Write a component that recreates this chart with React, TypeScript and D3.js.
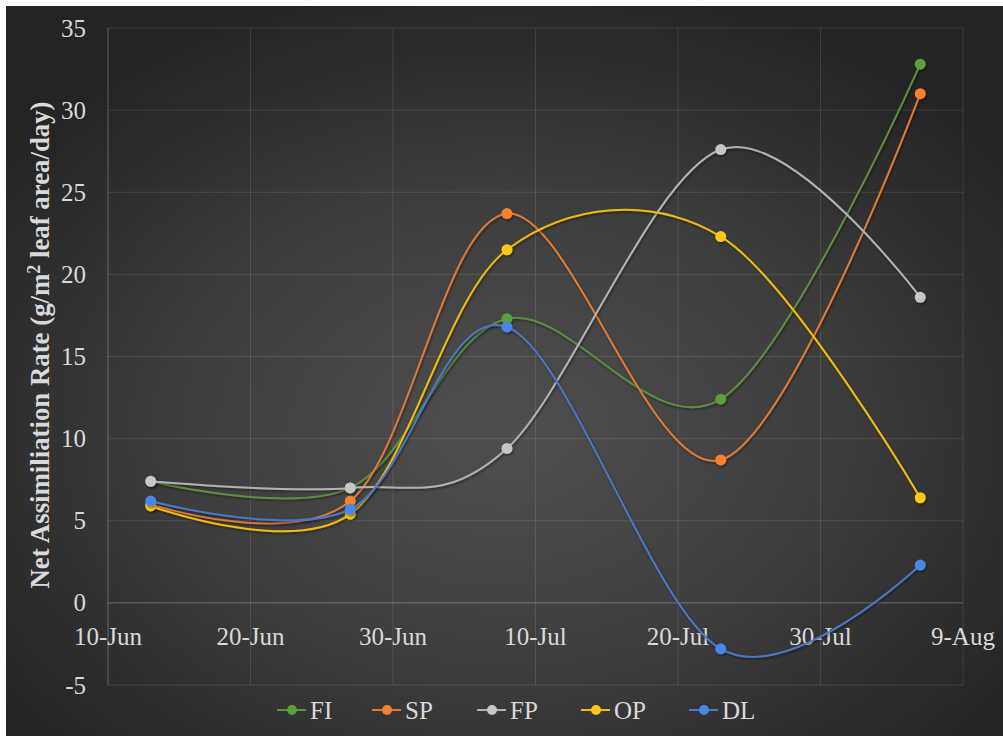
import React from "react";
import * as d3 from "d3";

// Sampling dates and series values (g/m² leaf area/day)
const sampleDates = ["2019-06-13", "2019-06-27", "2019-07-08", "2019-07-23", "2019-08-06"];
const seriesNames = ["FI", "SP", "FP", "OP", "DL"];
const fiValues = [7.4, 7.0, 17.3, 12.4, 32.8];
const spValues = [6.0, 6.2, 23.7, 8.7, 31.0];
const fpValues = [7.4, 7.0, 9.4, 27.6, 18.6];
const opValues = [5.9, 5.4, 21.5, 22.3, 6.4];
const dlValues = [6.2, 5.7, 16.8, -2.8, 2.3];
const lineColors = ["#5d8f3f", "#e07a36", "#b3b3b3", "#f2bb0c", "#4a78c9"];
const markerColors = ["#5aa03a", "#f5822e", "#c6c6c6", "#ffc815", "#4887e6"];

const xTickDates = ["2019-06-10", "2019-06-20", "2019-06-30", "2019-07-10", "2019-07-20", "2019-07-30", "2019-08-09"];
const yTicks = [-5, 0, 5, 10, 15, 20, 25, 30, 35];

const W = 1003;
const H = 736;
const left = 108;
const right = 963;
const top = 28;
const bottom = 685;

export default function App() {
  const parse = d3.timeParse("%Y-%m-%d");
  const fmt = d3.timeFormat("%-d-%b");
  const tickDates = xTickDates.map((d) => parse(d) as Date);
  const x = d3
    .scaleTime()
    .domain([tickDates[0], tickDates[tickDates.length - 1]])
    .range([left, right]);
  const y = d3.scaleLinear().domain([-5, 35]).range([bottom, top]);

  const dates = sampleDates.map((d) => parse(d) as Date);
  const allValues = [fiValues, spValues, fpValues, opValues, dlValues];
  const series = seriesNames.map((name, i) => ({
    name,
    line: lineColors[i],
    marker: markerColors[i],
    points: dates.map((d, j) => ({ date: d, value: allValues[i][j] })),
  }));

  const lineGen = d3
    .line<{ date: Date; value: number }>()
    .x((p) => x(p.date))
    .y((p) => y(p.value))
    .curve(d3.curveCardinal.tension(0));

  const font = "'Liberation Serif', 'Times New Roman', serif";
  const textColor = "#d9d9d9";

  const legendX = [292, 387, 492, 596, 704];
  const legendY = 710;

  return (
    <svg
      width={W}
      height={H}
      style={{ position: "absolute", left: 0, top: 0, display: "block" }}
      fontFamily={font}
    >
      <defs>
        <radialGradient id="bg" cx="50%" cy="58%" r="62%">
          <stop offset="0%" stopColor="#4f4f4f" />
          <stop offset="55%" stopColor="#3c3c3c" />
          <stop offset="100%" stopColor="#242424" />
        </radialGradient>
        <filter id="shadow" x="-20%" y="-20%" width="140%" height="140%">
          <feDropShadow dx="1" dy="1.5" stdDeviation="1.2" floodColor="#000" floodOpacity="0.45" />
        </filter>
      </defs>
      <rect x={0} y={0} width={W} height={H} fill="#ffffff" />
      <rect x={6} y={6} width={W - 6} height={H - 6} fill="url(#bg)" />

      {/* gridlines */}
      {yTicks.map((t) => (
        <line
          key={"gy" + t}
          x1={left}
          x2={right}
          y1={y(t)}
          y2={y(t)}
          stroke={t === 0 ? "rgba(255,255,255,0.28)" : "rgba(255,255,255,0.11)"}
          strokeWidth={1}
        />
      ))}
      {tickDates.map((d, i) => (
        <line
          key={"gx" + i}
          x1={x(d)}
          x2={x(d)}
          y1={top}
          y2={bottom}
          stroke={i === 0 ? "rgba(255,255,255,0.28)" : "rgba(255,255,255,0.11)"}
          strokeWidth={1}
        />
      ))}

      {/* y tick labels */}
      {yTicks.map((t) => (
        <text
          key={"ly" + t}
          x={86}
          y={y(t) + 8.5}
          textAnchor="end"
          fontSize={25}
          fill={textColor}
        >
          {t}
        </text>
      ))}

      {/* x tick labels */}
      {tickDates.map((d, i) => (
        <text
          key={"lx" + i}
          x={x(d)}
          y={y(0) + 42}
          textAnchor="middle"
          fontSize={25}
          fill={textColor}
        >
          {fmt(d)}
        </text>
      ))}

      {/* y axis title */}
      <text
        transform={`translate(49, 345) rotate(-90)`}
        textAnchor="middle"
        fontSize={26.8}
        fontWeight="bold"
        fill={textColor}
      >
        Net Assimiliation Rate (g/m
        <tspan fontSize={18} dy={-9}>2</tspan>
        <tspan dy={9}> leaf area/day)</tspan>
      </text>

      {/* series */}
      {series.map((s) => (
        <g key={s.name} filter="url(#shadow)">
          <path d={lineGen(s.points) || ""} fill="none" stroke={s.line} strokeWidth={2} />
          {s.points.map((p, j) => (
            <circle key={j} cx={x(p.date)} cy={y(p.value)} r={5.5} fill={s.marker} />
          ))}
        </g>
      ))}

      {/* legend */}
      {series.map((s, i) => (
        <g key={"lg" + s.name}>
          <line
            x1={legendX[i] - 15}
            x2={legendX[i] + 14}
            y1={legendY}
            y2={legendY}
            stroke={s.line}
            strokeWidth={2}
          />
          <circle cx={legendX[i]} cy={legendY} r={5} fill={s.marker} />
          <text x={legendX[i] + 18} y={legendY + 9} fontSize={25} fill={textColor}>
            {s.name}
          </text>
        </g>
      ))}
    </svg>
  );
}
